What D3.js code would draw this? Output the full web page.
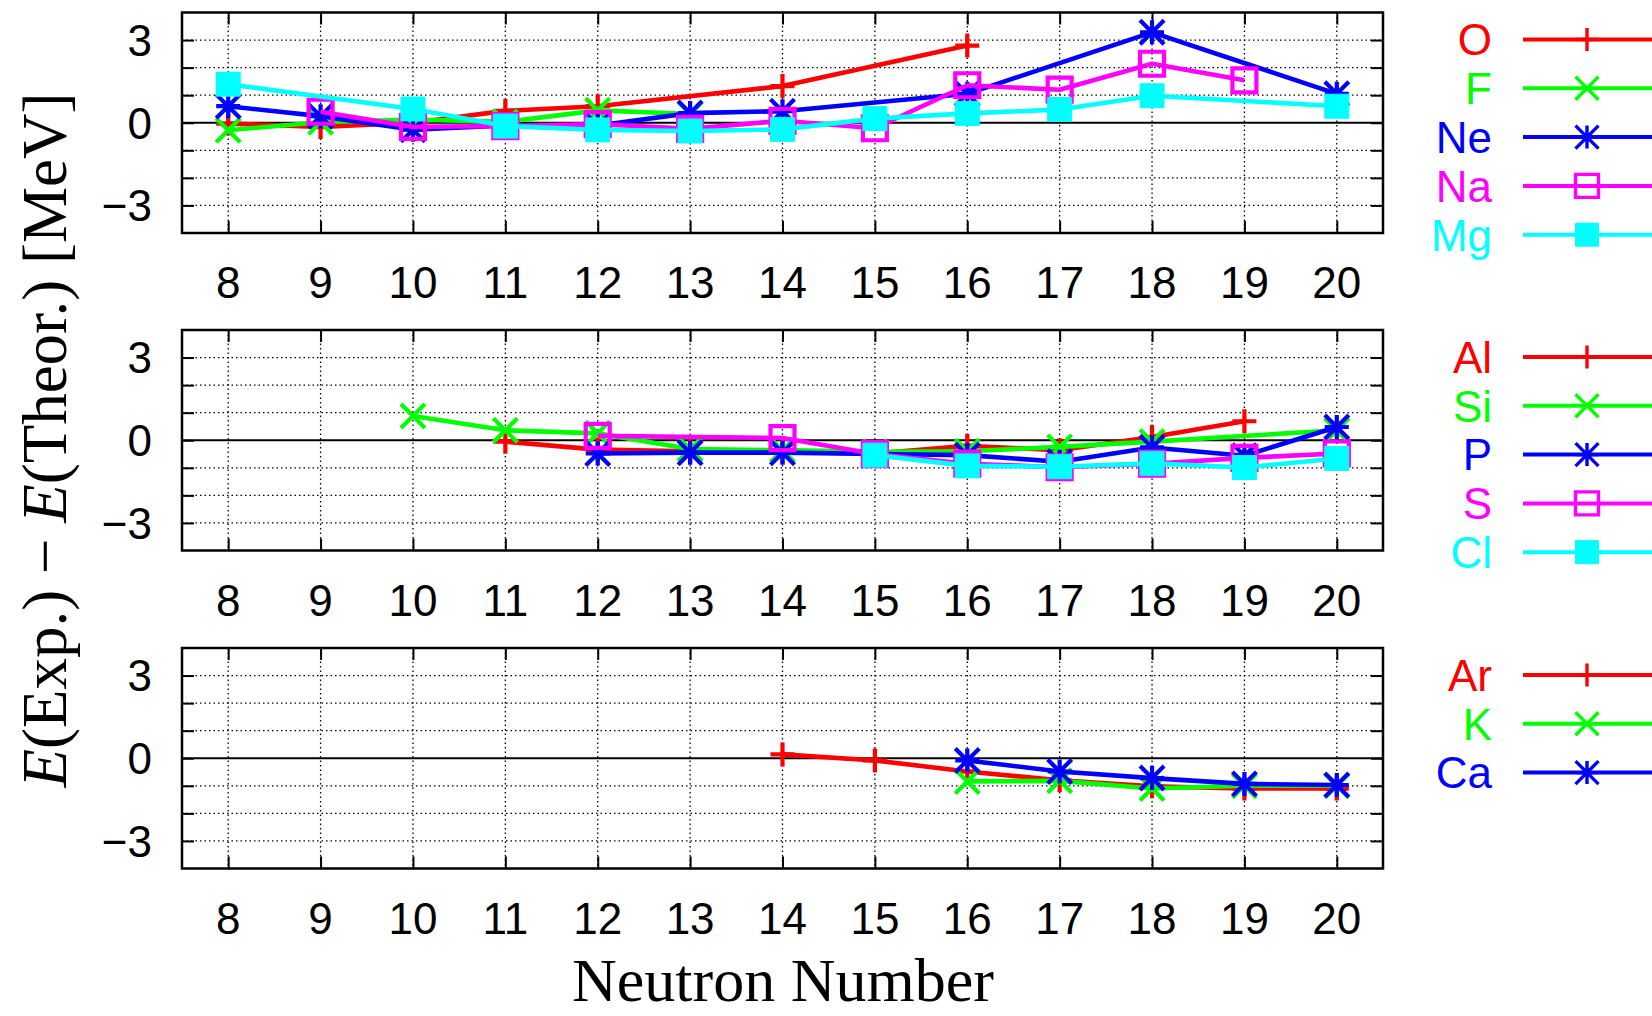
<!DOCTYPE html>
<html>
<head>
<meta charset="utf-8">
<script src="https://cdn.jsdelivr.net/npm/d3@7"></script>
<style>
  body { margin: 0; background: #fff; }
</style>
</head>
<body>
<svg id="chart" width="1652" height="1016"></svg>
<script>
// neutron numbers on the x axis + labelled y ticks
const NEUTRONS = [8, 9, 10, 11, 12, 13, 14, 15, 16, 17, 18, 19, 20];
const Y_LABELS = [-3, 0, 3];
const Y_GRID   = [-3, -2, -1, 0, 1, 2, 3];

// E(Exp.) - E(Theor.) in MeV, one value per neutron number (null = no point)
const O  = [-0.03, -0.15, 0.00, 0.43, 0.60, null, 1.33, null, 2.80, null, null, null, null];
const F  = [-0.27, 0.02, 0.12, 0.03, 0.45, 0.32, null, null, null, null, null, null, null];
const Ne = [0.60, 0.24, -0.25, -0.10, -0.10, 0.35, 0.42, null, 1.05, null, 3.28, null, 1.05];
const Na = [null, 0.40, -0.15, -0.12, -0.05, -0.22, 0.07, -0.20, 1.36, 1.20, 2.14, 1.54, null];
const Mg = [1.40, null, 0.50, -0.12, -0.26, -0.30, -0.24, 0.15, 0.34, 0.48, 0.98, null, 0.60];

const Al = [null, null, null, -0.05, -0.34, -0.40, -0.42, -0.48, -0.20, -0.36, 0.12, 0.69, null];
const Si = [null, null, 0.88, 0.36, 0.25, -0.32, -0.36, -0.42, -0.40, -0.24, -0.05, null, 0.36];
const P  = [null, null, null, null, -0.48, -0.45, -0.45, -0.50, -0.54, -0.78, -0.26, -0.56, 0.48];
const S  = [null, null, null, null, 0.16, null, 0.08, -0.50, -0.85, -0.98, -0.85, -0.64, -0.48];
const Cl = [null, null, null, null, null, null, null, -0.54, -0.93, -0.96, -0.84, -0.99, -0.66];

const Ar = [null, null, null, null, null, null, 0.14, -0.08, -0.48, -0.80, -1.02, -1.10, -1.10];
const K  = [null, null, null, null, null, null, null, null, -0.84, -0.82, -1.10, -1.00, -1.00];
const Ca = [null, null, null, null, null, null, null, null, -0.08, -0.48, -0.72, -0.93, -0.97];

const COLORS  = ["#ff0000", "#00ff00", "#0000ff", "#ff00ff", "#00ffff"];
const MARKERS = ["plus", "cross", "star", "square", "filled"];

const PANELS = [
  [["O", O], ["F", F], ["Ne", Ne], ["Na", Na], ["Mg", Mg]],
  [["Al", Al], ["Si", Si], ["P", P], ["S", S], ["Cl", Cl]],
  [["Ar", Ar], ["K", K], ["Ca", Ca]]
];

/* ── layout ── */
const left = 182, right = 1383;
const panelTop = [12.5, 330, 648];
const panelH = 220.5;
const SANS = "'Liberation Sans', Arial, Helvetica, sans-serif";
const SERIF = "'Liberation Serif', 'Times New Roman', Times, serif";

const svg = d3.select("#chart");

const x = d3.scaleLinear().domain([7.5, 20.5]).range([left, right]);

function markerPath(type, s) {
  const plus = `M${-s},0H${s}M0,${-s}V${s}`;
  const cross = `M${-s},${-s}L${s},${s}M${-s},${s}L${s},${-s}`;
  if (type === "plus") return plus;
  if (type === "cross") return cross;
  if (type === "star") return plus + cross;
  return `M${-s},${-s}H${s}V${s}H${-s}Z`;
}

function drawMarker(g, type, color, cx, cy, s, sw) {
  g.append("path")
    .attr("d", markerPath(type, s))
    .attr("transform", `translate(${cx},${cy})`)
    .attr("fill", type === "filled" ? color : "none")
    .attr("stroke", color)
    .attr("stroke-width", type === "filled" ? 1 : sw)
    .attr("stroke-linejoin", "miter");
}

PANELS.forEach((series, p) => {
  const top = panelTop[p], bottom = top + panelH;
  const y = d3.scaleLinear().domain([-4, 4]).range([bottom, top]);
  const g = svg.append("g");

  // dotted grid
  g.append("g").selectAll("line").data(Y_GRID.filter(v => v !== 0)).join("line")
    .attr("x1", left).attr("x2", right)
    .attr("y1", d => y(d)).attr("y2", d => y(d))
    .attr("stroke", "#000").attr("stroke-width", 1.3).attr("stroke-dasharray", "1.5 3");
  g.append("g").selectAll("line").data(NEUTRONS).join("line")
    .attr("x1", d => x(d)).attr("x2", d => x(d))
    .attr("y1", top).attr("y2", bottom)
    .attr("stroke", "#000").attr("stroke-width", 1.3).attr("stroke-dasharray", "1.5 3");

  // zero axis
  g.append("line").attr("x1", left).attr("x2", right)
    .attr("y1", y(0)).attr("y2", y(0))
    .attr("stroke", "#000").attr("stroke-width", 2);

  // axes: ticks inward on all four sides
  const tick = 12;
  g.append("g").attr("transform", `translate(0,${bottom})`)
    .call(d3.axisTop(x).tickValues(NEUTRONS).tickSize(tick).tickFormat(""))
    .call(ax => ax.select(".domain").remove());
  g.append("g").attr("transform", `translate(0,${top})`)
    .call(d3.axisBottom(x).tickValues(NEUTRONS).tickSize(tick).tickFormat(""))
    .call(ax => ax.select(".domain").remove());
  g.append("g").attr("transform", `translate(${left},0)`)
    .call(d3.axisRight(y).tickValues(Y_GRID).tickSize(tick).tickFormat(""))
    .call(ax => ax.select(".domain").remove());
  g.append("g").attr("transform", `translate(${right},0)`)
    .call(d3.axisLeft(y).tickValues(Y_GRID).tickSize(tick).tickFormat(""))
    .call(ax => ax.select(".domain").remove());
  g.selectAll(".tick line").attr("stroke", "#000").attr("stroke-width", 2);

  // tick labels
  g.append("g").selectAll("text").data(NEUTRONS).join("text")
    .attr("x", d => x(d)).attr("y", bottom + 65)
    .attr("text-anchor", "middle")
    .attr("font-family", SANS).attr("font-size", 44).attr("fill", "#000")
    .text(d => d);
  g.append("g").selectAll("text").data(Y_LABELS).join("text")
    .attr("x", 152).attr("y", d => y(d)).attr("dy", "0.36em")
    .attr("text-anchor", "end")
    .attr("font-family", SANS).attr("font-size", 44).attr("fill", "#000")
    .text(d => d < 0 ? "\u2212" + Math.abs(d) : d);

  // series
  const line = d3.line().x(d => x(d.n)).y(d => y(d.v));
  series.forEach(([name, vals], i) => {
    const pts = NEUTRONS.map((n, k) => ({ n, v: vals[k] })).filter(d => d.v != null);
    const sg = g.append("g");
    sg.append("path").datum(pts).attr("d", line)
      .attr("fill", "none").attr("stroke", COLORS[i]).attr("stroke-width", 4.6)
      .attr("stroke-linejoin", "round");
    pts.forEach(d => drawMarker(sg, MARKERS[i], COLORS[i], x(d.n), y(d.v), 12, 4.2));

    // legend row
    const ly = top + 27 + i * 48.8;
    svg.append("text")
      .attr("x", 1492).attr("y", ly).attr("dy", "0.36em")
      .attr("text-anchor", "end")
      .attr("font-family", SANS).attr("font-size", 44).attr("fill", COLORS[i])
      .text(name);
    svg.append("line")
      .attr("x1", 1523).attr("x2", 1660).attr("y1", ly).attr("y2", ly)
      .attr("stroke", COLORS[i]).attr("stroke-width", 4);
    drawMarker(svg.append("g"), MARKERS[i], COLORS[i], 1587, ly, 11.5, 3.4);
  });

  // frame
  g.append("rect").attr("x", left).attr("y", top)
    .attr("width", right - left).attr("height", panelH)
    .attr("fill", "none").attr("stroke", "#000").attr("stroke-width", 2.5);
});

/* ── axis titles ── */
const yTitle = svg.append("text")
  .attr("transform", "translate(66,440) rotate(-90)")
  .attr("text-anchor", "middle")
  .attr("font-family", SERIF).attr("font-size", 63).attr("fill", "#000");
yTitle.append("tspan").attr("font-style", "italic").text("E");
yTitle.append("tspan").text("(Exp.) \u2212 ");
yTitle.append("tspan").attr("font-style", "italic").text("E");
yTitle.append("tspan").text("(Theor.) [MeV]");

svg.append("text")
  .attr("x", 783).attr("y", 1001)
  .attr("text-anchor", "middle")
  .attr("font-family", SERIF).attr("font-size", 62).attr("fill", "#000")
  .text("Neutron Number");
</script>
</body>
</html>
